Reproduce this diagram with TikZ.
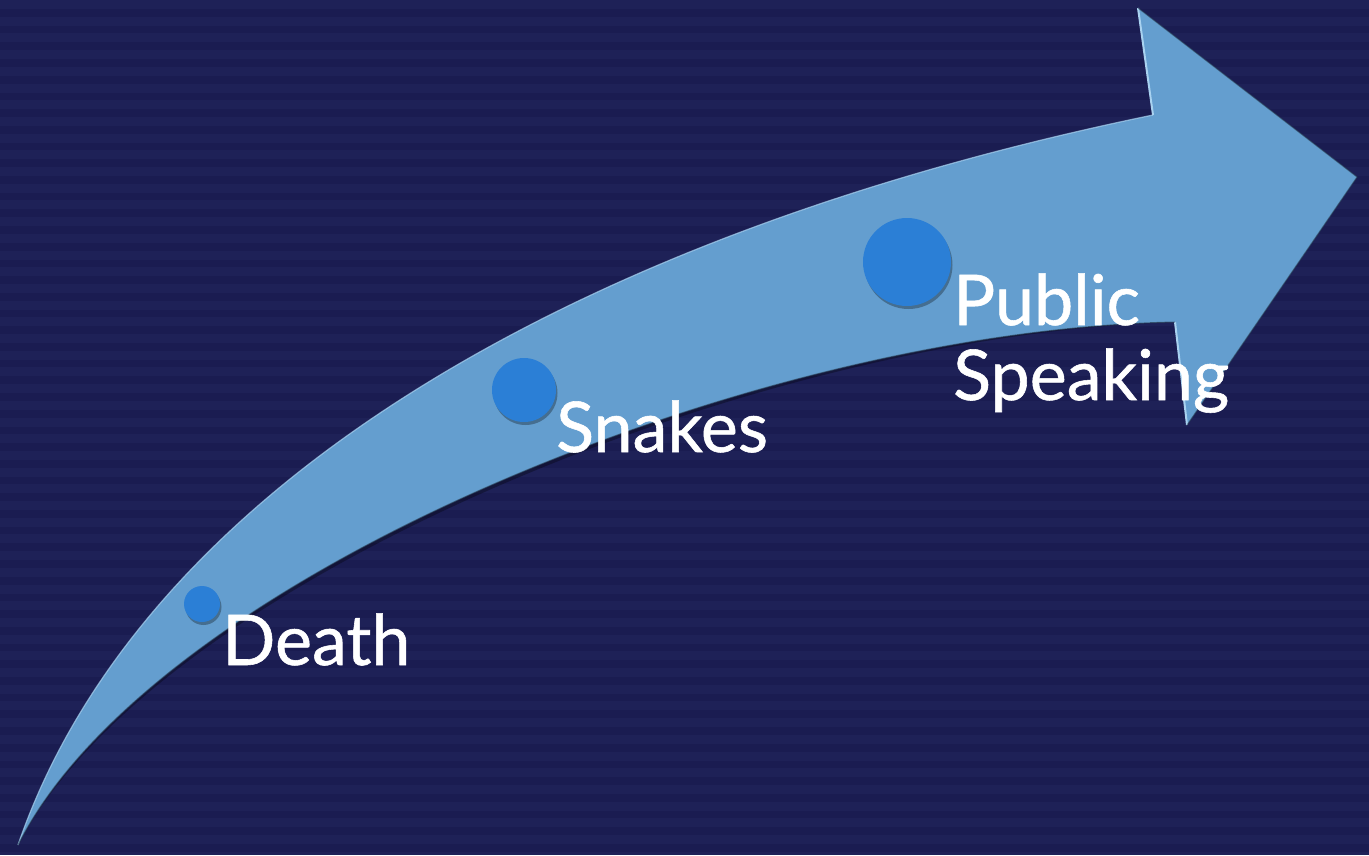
\documentclass[tikz,border=0pt]{standalone}
\usepackage{fontspec}
\setmainfont{Lato}
\newfontfamily\lblfont{Lato}[FakeBold=0.8]
\usetikzlibrary{shadows}
\definecolor{bgA}{HTML}{1E2157}
\definecolor{bgB}{HTML}{1A1C51}
\definecolor{arrowfill}{HTML}{649ECF}
\definecolor{arrowlight}{HTML}{A9D2F0}
\definecolor{dotfill}{HTML}{2B7FD6}
\tikzset{
  dot/.style={circle, fill=dotfill, inner sep=0pt,
    drop shadow={shadow xshift=1.5pt, shadow yshift=-3pt, opacity=0.3, fill=black}},
  lbl/.style={text=white, inner sep=0pt, anchor=base west,
    font=\lblfont\fontsize{70}{75}\selectfont}
}
\begin{document}
\begin{tikzpicture}[x=1pt,y=-1pt]
\useasboundingbox (0,0) rectangle (1369,855);
\begin{scope}
\clip (0,0) rectangle (1369,855);
\fill[bgA] (0,0) rectangle (1369,855);
\foreach \i in {0,...,51} \fill[bgB] (0,{\i*16.7+9}) rectangle (1369,{\i*16.7+16.7});
\end{scope}
% arrow geometry
\coordinate (tail) at (18,845);
\coordinate (un) at (1153,115);
\coordinate (ub) at (1138,8);
\coordinate (tip) at (1357,177);
\coordinate (lb) at (1187,425);
\coordinate (ln) at (1175,322);
% shadow
\begin{scope}[shift={(3,4)}]
\fill[black, opacity=0.3] (tail) .. controls (140,490) and (570,235) .. (un) -- (ub) -- (tip) -- (lb) -- (ln) .. controls (750,330) and (150,580) .. (tail) -- cycle;
\end{scope}
\fill[arrowfill] (tail) .. controls (140,490) and (570,235) .. (un) -- (ub) -- (tip) -- (lb) -- (ln) .. controls (750,330) and (150,580) .. (tail) -- cycle;
% bevel highlights
\draw[arrowlight, line width=1.2pt, opacity=0.7] (tail) .. controls (140,490) and (570,235) .. (un);
\draw[arrowlight, line width=2pt] (ub) -- (un);
\draw[arrowlight, line width=2pt] (ln) -- (lb);
\draw[black!60!arrowfill, line width=1pt, opacity=0.6] (ub) -- (tip) -- (lb);
\draw[black!60!arrowfill, line width=1pt, opacity=0.6] (ln) .. controls (750,330) and (150,580) .. (tail);
% dots
\node[dot, minimum size=36pt] (d1) at (202,604) {};
\node[dot, minimum size=64pt] (d2) at (524,390) {};
\node[dot, minimum size=88pt] (d3) at (907,262) {};
% labels
\node[lbl] (t1) at (222,665) {Death};
\node[lbl] (t2) at (556,452) {Snakes};
\node[lbl] (t3a) at (953,325) {Public};
\node[lbl] (t3b) at (953,400) {Speaking};
\end{tikzpicture}
\end{document}
